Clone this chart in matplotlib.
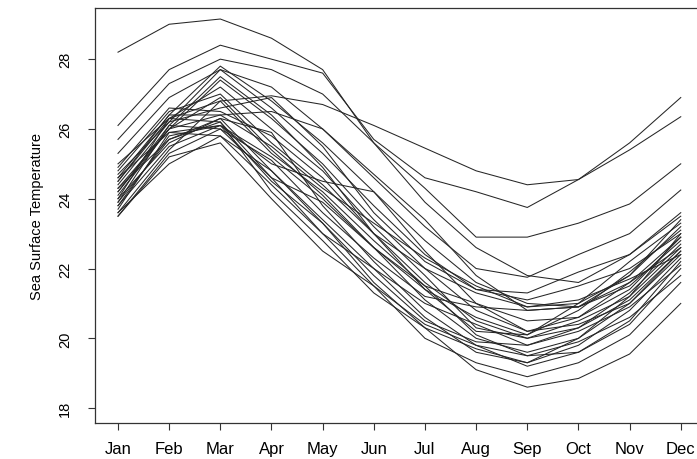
import matplotlib
matplotlib.use("Agg")
import matplotlib.pyplot as plt

plt.rcParams['font.family'] = ['Liberation Sans', 'DejaVu Sans']

months = ['Jan', 'Feb', 'Mar', 'Apr', 'May', 'Jun',
          'Jul', 'Aug', 'Sep', 'Oct', 'Nov', 'Dec']
y_ticks = [18, 20, 22, 24, 26, 28]

# monthly sea surface temperature, one list per year
sst_a = [28.2, 29.0, 29.15, 28.6, 27.7, 25.6, 23.9, 22.6, 21.8, 21.6, 22.4, 23.5]
sst_b = [26.1, 27.7, 28.4, 28.0, 27.6, 25.7, 24.6, 24.2, 23.75, 24.55, 25.4, 26.35]
sst_c = [25.0, 26.3, 26.8, 26.95, 26.7, 26.1, 25.45, 24.8, 24.4, 24.55, 25.6, 26.9]
sst_d = [25.7, 27.3, 28.0, 27.7, 27.0, 25.6, 24.3, 22.9, 22.9, 23.3, 23.85, 25.0]
sst_e = [25.3, 26.9, 27.7, 27.2, 26.0, 24.6, 23.2, 22.0, 21.75, 22.4, 23.0, 24.25]
sst_low1 = [23.6, 25.0, 25.8, 24.8, 23.3, 21.6, 20.3, 19.1, 18.6, 18.85, 19.55, 21.0]
sst_low2 = [23.5, 25.3, 26.0, 24.6, 23.0, 21.5, 20.0, 19.3, 18.9, 19.3, 20.1, 21.6]
sst_bundle = [
    [24.2, 26.0, 27.4, 26.3, 25.0, 23.4, 22.0, 20.8, 20.2, 20.6, 21.6, 22.9],
    [23.8, 25.8, 26.1, 25.2, 24.0, 22.6, 21.1, 20.0, 19.6, 20.0, 21.0, 22.4],
    [24.6, 26.4, 27.8, 26.8, 25.6, 24.2, 22.8, 21.6, 21.0, 20.9, 21.8, 23.2],
    [24.0, 25.6, 26.3, 24.8, 23.4, 22.0, 20.6, 19.6, 19.3, 19.8, 20.8, 22.3],
    [23.7, 25.9, 25.8, 24.4, 23.0, 22.0, 21.0, 20.4, 19.8, 20.3, 21.3, 22.7],
    [24.4, 26.2, 26.6, 26.9, 25.5, 23.6, 22.2, 21.4, 21.1, 21.5, 22.0, 23.0],
    [24.8, 26.5, 27.0, 25.6, 24.4, 23.0, 21.6, 20.5, 20.0, 20.3, 21.1, 22.5],
    [23.9, 26.1, 26.0, 25.1, 23.6, 22.3, 21.2, 20.9, 20.8, 20.9, 21.5, 22.8],
    [24.3, 25.7, 26.2, 24.2, 22.8, 21.3, 20.3, 19.7, 19.3, 20.0, 21.2, 23.0],
    [24.5, 26.3, 27.2, 26.0, 24.8, 23.2, 21.8, 20.3, 20.0, 20.5, 21.2, 22.6],
    [23.6, 25.4, 26.8, 25.3, 24.2, 22.8, 21.5, 20.1, 19.5, 19.6, 20.4, 22.0],
    [24.1, 26.0, 26.4, 26.5, 26.0, 24.7, 23.4, 21.8, 20.8, 20.9, 21.6, 22.6],
    [24.9, 26.6, 26.5, 25.8, 24.6, 23.0, 22.0, 21.3, 20.9, 21.0, 21.8, 23.4],
    [23.8, 25.5, 26.1, 24.5, 23.3, 21.8, 20.5, 19.9, 19.8, 20.2, 20.9, 22.1],
    [24.2, 26.1, 27.5, 26.4, 24.9, 23.0, 21.4, 20.2, 20.1, 21.0, 22.2, 23.3],
    [24.6, 25.9, 26.1, 25.0, 24.5, 24.2, 22.5, 21.0, 20.5, 20.6, 21.4, 22.9],
    [23.5, 25.2, 25.6, 24.0, 22.5, 21.5, 20.4, 19.8, 19.5, 19.9, 20.6, 21.8],
    [24.0, 26.3, 26.2, 24.6, 23.9, 22.6, 21.5, 21.0, 20.2, 20.4, 21.0, 22.5],
    [24.7, 26.2, 27.7, 26.6, 25.3, 23.8, 22.4, 21.4, 21.3, 21.9, 22.4, 23.6],
    [23.9, 25.7, 26.3, 25.9, 23.8, 22.2, 20.8, 19.8, 19.2, 19.6, 20.5, 22.2],
    [24.3, 26.0, 26.9, 25.4, 24.1, 22.6, 21.4, 20.6, 20.1, 20.8, 21.9, 23.1],
    [24.5, 26.4, 26.4, 25.5, 24.3, 23.3, 22.3, 21.5, 20.9, 21.1, 21.7, 22.4],
]

all_years = [sst_a, sst_b, sst_c, sst_d, sst_e, sst_low1, sst_low2] + sst_bundle

fig = plt.figure(figsize=(6.97, 4.6), dpi=100)
# plot box runs a little past the right edge, like the cropped original
ax = fig.add_axes([0.137, 0.078, 0.872, 0.902])

x = list(range(1, 13))
for year in all_years:
    ax.plot(x, year, color='#262626', lw=0.75)

ax.set_xlim(0.56, 12.44)
ax.set_ylim(17.57, 29.46)
ax.set_xticks(x)
ax.set_xticklabels(months, fontsize=12)
ax.set_yticks(y_ticks)
ax.set_yticklabels([str(t) for t in y_ticks], rotation=90, va='center', fontsize=10.5)
ax.set_ylabel('Sea Surface Temperature', fontsize=10.5, labelpad=10)
ax.tick_params(direction='out', length=5, width=0.8, color='#333333')
ax.tick_params(axis='x', pad=8)
ax.tick_params(axis='y', pad=12)
for s in ax.spines.values():
    s.set_color('#333333')
    s.set_linewidth(0.9)

fig.savefig('out.png', dpi=100)
